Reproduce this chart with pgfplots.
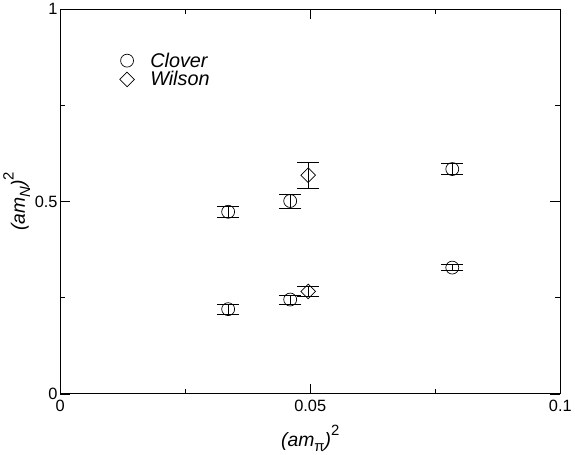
\documentclass[border=0pt]{standalone}
\usepackage{fontspec}
\setmainfont{Liberation Sans}
\usepackage{pgfplots}
\pgfplotsset{compat=1.18}
\begin{document}
\begin{tikzpicture}
\begin{axis}[
  scale only axis,
  width=503bp, height=387bp,
  xmin=0, xmax=0.1, ymin=0, ymax=1,
  xtick={0,0.05,0.1}, xticklabels={0,0.05,0.1},
  ytick={0,0.5,1}, yticklabels={0,0.5,1},
  minor xtick={0.025,0.075}, minor ytick={0.25,0.75},
  tick align=inside,
  major tick length=10bp, minor tick length=5bp,
  axis line style={line width=0.8bp},
  every tick/.style={black, line width=0.6bp},
  tick label style={font=\fontsize{16.5}{18}\selectfont},
  /pgf/number format/assume math mode=true,
  xticklabel style={yshift=-3bp},
  yticklabel style={xshift=1bp},
  xlabel={{\itshape (am}\raisebox{-0.5ex}{\fontsize{15}{16}\selectfont π}{\itshape )}\raisebox{1.1ex}{\fontsize{15}{16}\selectfont 2}},
  ylabel={{\itshape (am}\raisebox{-0.5ex}{\fontsize{15}{16}\selectfont\itshape N}{\itshape )}\raisebox{1.1ex}{\fontsize{15}{16}\selectfont 2}},
  label style={font=\fontsize{19.5}{22}\selectfont},
  xlabel style={yshift=-6bp},
  ylabel style={yshift=-2bp},
  legend style={draw=none, fill=none, at={(rel axis cs:0.113,0.897)}, anchor=north west,
    font=\fontsize{20}{23}\selectfont\itshape, row sep=-1bp,
    /tikz/every odd column/.append style={column sep=14bp}},
  legend cell align=left,
  legend image code/.code={\draw[#1] plot coordinates {(0bp,0bp)};},
  error bars/error bar style={black, line width=0.7bp},
  error bars/error mark options={rotate=90, mark size=11bp, line width=0.7bp},
]
\addplot[only marks, mark=o, mark size=6.5bp, mark options={black, line width=0.7bp},
  error bars/.cd, y dir=both, y explicit]
  coordinates {
  (0.0336,0.473) +- (0,0.015)
  (0.0460,0.501) +- (0,0.018)
  (0.0784,0.584) +- (0,0.014)
  (0.0336,0.220) +- (0,0.0125)
  (0.0460,0.245) +- (0,0.012)
  (0.0784,0.328) +- (0,0.008)
  };
\addlegendentry{Clover}
\addplot[only marks, mark=square, mark size=5.2bp, mark options={black, line width=0.7bp, rotate=45},
  error bars/.cd, y dir=both, y explicit]
  coordinates {
  (0.0496,0.568) +- (0,0.034)
  (0.0496,0.266) +- (0,0.013)
  };
\addlegendentry{Wilson}
\end{axis}
\end{tikzpicture}
\end{document}
